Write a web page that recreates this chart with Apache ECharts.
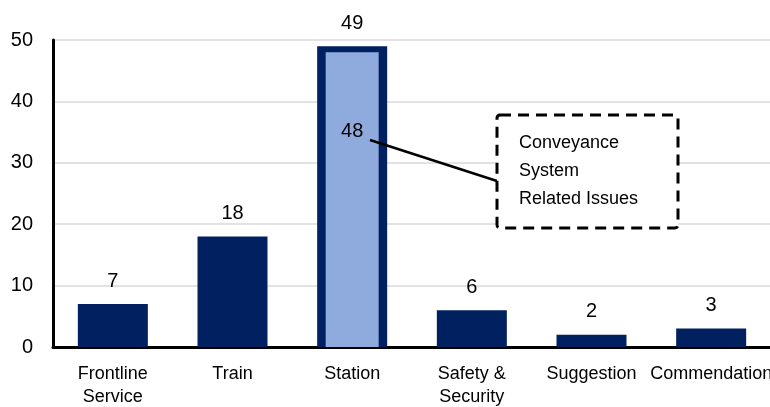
<!DOCTYPE html>
<html>
<head>
<meta charset="utf-8">
<style>html,body{margin:0;padding:0;background:#fff}#c{width:770px;height:407px}</style>
<script src="https://cdn.jsdelivr.net/npm/echarts@6/dist/echarts.min.js"></script>
</head>
<body>
<div id="c"></div>
<script>
const categories = ['Frontline\nService', 'Train', 'Station', 'Safety &\nSecurity', 'Suggestion', 'Commendation'];
const totalValues = [7, 18, 49, 6, 2, 3];
const conveyanceValues = [null, null, 48, null, null, null];
const yTicks = [0, 10, 20, 30, 40, 50];
const annotationText = ['Conveyance', 'System', 'Related Issues'];

const FONT = '"Liberation Sans", Arial, sans-serif';
const FS = 18;
const chart = echarts.init(document.getElementById('c'), null, {renderer: 'canvas'});

chart.setOption({
  animation: false,
  backgroundColor: '#fff',
  grid: {left: 53, right: -1, top: 40, bottom: 60, containLabel: false, outerBoundsMode: 'none'},
  xAxis: [{
    type: 'category',
    data: categories,
    axisLine: {lineStyle: {color: '#000', width: 3}},
    axisTick: {show: false},
    axisLabel: {fontFamily: FONT, fontSize: FS, color: '#000', margin: 16, lineHeight: 23, interval: 0, hideOverlap: false}
  }, {
    type: 'category',
    data: categories,
    show: false
  }],
  yAxis: {
    type: 'value',
    min: yTicks[0],
    max: yTicks[yTicks.length - 1],
    interval: 10,
    axisLine: {show: true, lineStyle: {color: '#000', width: 3}},
    axisTick: {show: false},
    splitLine: {lineStyle: {color: '#d9d9d9', width: 1.5}},
    axisLabel: {fontFamily: FONT, fontSize: 20, color: '#000', margin: 20}
  },
  series: [{
    type: 'bar',
    data: totalValues,
    barWidth: 70,
    itemStyle: {color: '#002060'},
    label: {show: true, position: 'top', distance: 13, fontFamily: FONT, fontSize: 20, color: '#000'},
    z: 2
  }, {
    type: 'bar',
    xAxisIndex: 1,
    data: conveyanceValues,
    barWidth: 53,
    itemStyle: {color: '#8FAADC'},
    label: {show: true, position: 'insideTop', distance: 69, fontFamily: FONT, fontSize: 20, color: '#000'},
    z: 3
  }],
  graphic: [{
    type: 'line',
    shape: {x1: 370, y1: 140, x2: 497, y2: 181},
    style: {stroke: '#000', lineWidth: 2.5},
    z: 10
  }, {
    type: 'rect',
    shape: {x: 497, y: 115, width: 181, height: 113, r: 3},
    style: {fill: '#fff', stroke: '#000', lineWidth: 3, lineDash: [11, 7]},
    z: 10
  }, {
    type: 'text',
    left: 519,
    top: 129,
    style: {text: annotationText.join('\n'), font: FS + 'px ' + FONT, fill: '#000', lineHeight: 28},
    z: 11
  }]
});
</script>
</body>
</html>
